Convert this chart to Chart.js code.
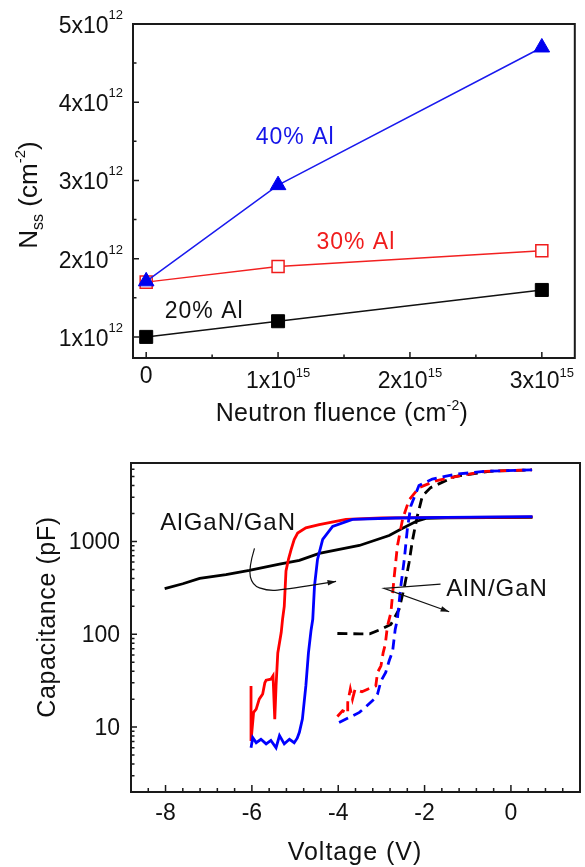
<!DOCTYPE html>
<html>
<head>
<meta charset="utf-8">
<script src="https://cdn.jsdelivr.net/npm/chart.js@4.4.1/dist/chart.umd.min.js"></script>
<style>
  html, body { margin: 0; padding: 0; background: #fff; }
  body { width: 585px; height: 867px; position: relative; overflow: hidden; }
  canvas { position: absolute; left: 0; }
  #fluence-chart { top: 0; }
  #cv-chart { top: 420px; }
</style>
</head>
<body>
<canvas id="fluence-chart" width="585" height="445"></canvas>
<canvas id="cv-chart" width="585" height="447"></canvas>
<script>
// ---- N_ss vs neutron fluence ----
const fluence = [0, 1e15, 3e15];
const nss40 = [1.71e12, 2.94e12, 4.70e12];
const nss30 = [1.70e12, 1.90e12, 2.10e12];
const nss20 = [1.00e12, 1.20e12, 1.60e12];
const fluenceTicks = [0, 1e15, 2e15, 3e15];
const fluenceMinor = [0.5e15, 1.5e15, 2.5e15];
const nssTicks = [1e12, 2e12, 3e12, 4e12, 5e12];
const nssMinor = [1.5e12, 2.5e12, 3.5e12, 4.5e12];

// ---- C-V curves (solid: AlGaN/GaN, dashed: AlN/GaN) ----
const blueSolidV = [-6.02, -5.98, -5.90, -5.79, -5.67, -5.56, -5.44, -5.36, -5.25, -5.13, -5.02, -4.95, -4.90, -4.83, -4.75, -4.69, -4.63, -4.59, -4.55, -4.48, -4.36, -4.13, -3.67, -2.67, -1.5, 0.5];
const blueSolidC = [6.0, 7.7, 6.8, 7.4, 6.6, 7.2, 6.0, 8.1, 6.6, 7.4, 6.8, 7.6, 8.8, 12.2, 27.8, 63, 110, 145, 330, 640, 1050, 1450, 1730, 1790, 1820, 1850];

const redSolidV = [-6.02, -6.02, -5.96, -5.90, -5.83, -5.75, -5.70, -5.67, -5.56, -5.51, -5.47, -5.44, -5.40, -5.32, -5.29, -5.25, -5.21, -5.15, -5.09, -5.02, -4.94, -4.75, -4.44, -3.82, -3.0, -2.0, -1.0, 0.0, 0.5];
const redSolidC = [27.8, 7.1, 14.4, 15.6, 20, 22.7, 30, 32, 32.8, 35.7, 12.2, 27.8, 63, 105, 145, 200, 480, 650, 820, 1050, 1230, 1400, 1520, 1730, 1790, 1810, 1820, 1830, 1840];

const blackSolidV = [-8.02, -7.6, -7.21, -6.6, -6.06, -5.36, -4.9, -4.44, -3.51, -2.82, -2.52, -2.2, -1.97, -1.5, 0.5];
const blackSolidC = [310, 350, 400, 440, 488, 570, 625, 743, 905, 1160, 1380, 1640, 1770, 1800, 1820];

const blueDashV = [-3.98, -3.82, -3.51, -3.40, -3.17, -3.09, -3.01, -2.90, -2.82, -2.74, -2.68, -2.63, -2.55, -2.47, -2.40, -2.32, -2.13, -1.82, -1.28, -0.58, 0.49];
const blueDashC = [11.2, 12.2, 14.4, 15.9, 20, 22.7, 31.4, 38.8, 51.8, 66, 113, 145, 330, 640, 1350, 2400, 4000, 4700, 5300, 5700, 5900];

const redDashV = [-4.02, -3.90, -3.78, -3.78, -3.72, -3.67, -3.61, -3.45, -3.32, -3.13, -3.09, -3.01, -2.96, -2.91, -2.86, -2.78, -2.71, -2.63, -2.51, -2.36, -2.13, -1.74, -1.28, -0.58, 0.49];
const redDashC = [13.0, 15, 14, 18.4, 25.6, 20, 25.6, 24, 25.6, 27.8, 38.8, 45.7, 63, 78, 123, 171, 390, 890, 1730, 2800, 3800, 4500, 5000, 5700, 5900];

const blackDashV = [-4.02, -3.5, -3.27, -2.98, -2.78, -2.59, -2.47, -2.36, -2.28, -2.17, -2.05, -1.86, -1.3, -0.5, 0.49];
const blackDashC = [102, 101, 101, 115, 128, 186, 320, 590, 1030, 1860, 3100, 3800, 5000, 5700, 5900];

const voltTicks = [-8, -6, -4, -2, 0];
const capTicks = [10, 100, 1000];

// arrow paths for the two labels, in volts / pF
const algaArrowV = [-5.94, -6.08, -5.99, -5.66, -5.36, -4.05];
const algaArrowC = [841, 512, 336, 297, 297, 371];
const alnArrowV = [-1.63, -2.94, -1.43];
const alnArrowC = [347, 312, 175];

const FONT = '"Liberation Sans", Arial, Helvetica, sans-serif';

function setFont(ctx, size) { ctx.font = size + 'px ' + FONT; }

// parts: [text, size, raise]; raise lifts a run above the baseline (negative lowers it)
function drawRich(ctx, parts, x, y, align, spacing) {
  ctx.letterSpacing = (spacing || 0) + 'px';
  let w = 0;
  for (const [t, size] of parts) { setFont(ctx, size); w += ctx.measureText(t).width; }
  let cx = align === 'center' ? x - w / 2 : align === 'right' ? x - w : x;
  ctx.textAlign = 'left';
  ctx.textBaseline = 'alphabetic';
  for (const [t, size, raise] of parts) {
    setFont(ctx, size);
    ctx.fillText(t, cx, y - (raise || 0));
    cx += ctx.measureText(t).width;
  }
  ctx.letterSpacing = '0px';
}

function sciParts(v, raise) {
  if (v === 0) return [['0', 23]];
  const e = Math.floor(Math.log10(v) + 1e-9);
  const m = Math.round(v / Math.pow(10, e));
  return [[m + 'x10', 23], [String(e), 13, raise]];
}

function drawTicks(ctx, scale, values, len, a, axis) {
  ctx.beginPath();
  for (const v of values) {
    const p = scale.getPixelForValue(v);
    if (axis === 'x') { ctx.moveTo(p, a.bottom); ctx.lineTo(p, a.bottom - len); }
    else { ctx.moveTo(a.left, p); ctx.lineTo(a.left + len, p); }
  }
  ctx.stroke();
}

function label(ctx, text, x, y, color, size) {
  setFont(ctx, size);
  ctx.letterSpacing = '1px';
  ctx.fillStyle = color;
  ctx.textAlign = 'center';
  ctx.textBaseline = 'middle';
  ctx.fillText(text, x, y);
  ctx.letterSpacing = '0px';
}

function arrowHead(ctx, x0, y0, x1, y1, size) {
  const ang = Math.atan2(y1 - y0, x1 - x0);
  ctx.beginPath();
  ctx.moveTo(x1, y1);
  ctx.lineTo(x1 - size * Math.cos(ang - 0.32), y1 - size * Math.sin(ang - 0.32));
  ctx.lineTo(x1 - size * Math.cos(ang + 0.32), y1 - size * Math.sin(ang + 0.32));
  ctx.closePath();
  ctx.fill();
}

const points = (xs, ys) => xs.map((x, i) => ({ x, y: ys[i] }));

const fixedAxis = (size, dir) => s => { if (dir === 'w') s.width = size; else s.height = size; };
const hiddenAxis = { grid: { display: false }, border: { display: false }, ticks: { display: false } };

// ---------- top chart ----------
const fluenceDecor = {
  id: 'fluenceDecor',
  afterDraw(chart) {
    const { ctx, chartArea: a, scales: { x, y } } = chart;
    ctx.save();
    ctx.strokeStyle = '#1a1a1a';
    ctx.lineWidth = 1.5;
    drawTicks(ctx, y, nssTicks, 6, a, 'y');
    drawTicks(ctx, y, nssMinor, 3.5, a, 'y');
    drawTicks(ctx, x, fluenceTicks, 6, a, 'x');
    drawTicks(ctx, x, fluenceMinor, 3.5, a, 'x');
    ctx.lineWidth = 2;
    ctx.strokeRect(a.left, a.top, a.right - a.left, a.bottom - a.top);

    ctx.fillStyle = '#111';
    nssTicks.forEach(v => drawRich(ctx, sciParts(v, 14), a.left - 10, y.getPixelForValue(v) + 9, 'right'));
    fluenceTicks.forEach(v => drawRich(ctx, sciParts(v, 11), x.getPixelForValue(v), v === 0 ? 383 : 388, 'center'));

    drawRich(ctx, [['Neutron fluence (cm', 25], ['-2', 14, 11], [')', 25]], 342, 421, 'center', 0.3);

    ctx.save();
    ctx.translate(37, 195);
    ctx.rotate(-Math.PI / 2);
    drawRich(ctx, [['N', 26], ['ss', 16, -6], [' (cm', 26], ['-2', 15, 12], [')', 26]], 0, 0, 'center');
    ctx.restore();

    label(ctx, '40% Al', x.getPixelForValue(1.13e15), y.getPixelForValue(3.55e12), '#1515e8', 23);
    label(ctx, '30% Al', x.getPixelForValue(1.59e15), y.getPixelForValue(2.21e12), '#f01c1c', 23);
    label(ctx, '20% Al', x.getPixelForValue(0.44e15), y.getPixelForValue(1.32e12), '#111', 23);
    ctx.restore();
  }
};

new Chart(document.getElementById('fluence-chart'), {
  type: 'scatter',
  data: {
    datasets: [
      { data: points(fluence, nss40), showLine: true, borderColor: '#1a1aee', borderWidth: 1.5,
        pointStyle: 'triangle', pointRadius: 9, pointBackgroundColor: '#0000ee', pointBorderColor: '#0000ee', pointBorderWidth: 1 },
      { data: points(fluence, nss30), showLine: true, borderColor: '#f22020', borderWidth: 1.5,
        pointStyle: 'rect', pointRadius: 8.5, pointBackgroundColor: '#fff', pointBorderColor: '#f01c1c', pointBorderWidth: 1.5 },
      { data: points(fluence, nss20), showLine: true, borderColor: '#111', borderWidth: 1.5,
        pointStyle: 'rect', pointRadius: 9.2, pointBackgroundColor: '#000', pointBorderColor: '#000', pointBorderWidth: 1 }
    ]
  },
  options: {
    responsive: false,
    animation: false,
    events: [],
    layout: { padding: { left: 0, top: 24, right: 4, bottom: 0 } },
    plugins: { legend: { display: false }, tooltip: { enabled: false } },
    scales: {
      x: { type: 'linear', min: -0.1e15, max: 3.25e15, ...hiddenAxis, afterFit: fixedAxis(87, 'h') },
      y: { type: 'linear', min: 0.73e12, max: 5e12, ...hiddenAxis, afterFit: fixedAxis(133, 'w') }
    }
  },
  plugins: [fluenceDecor]
});

// ---------- bottom chart ----------
const capMinor = [];
[1, 10, 100, 1000].forEach(d => {
  for (let k = 2; k <= 9; k++) {
    const v = k * d;
    if (v >= 2 && v <= 7000) capMinor.push(v);
  }
});
const voltMinor = [];
for (let i = 0; i <= 26; i++) {
  const v = -8.8 + 0.4 * i;
  const r = Math.round(v);
  if (!(Math.abs(v - r) < 1e-6 && r % 2 === 0)) voltMinor.push(v);
}

const cvDecor = {
  id: 'cvDecor',
  afterDraw(chart) {
    const { ctx, chartArea: a, scales: { x, y } } = chart;
    ctx.save();
    ctx.strokeStyle = '#1a1a1a';
    ctx.lineWidth = 1.5;
    drawTicks(ctx, y, capTicks, 6, a, 'y');
    drawTicks(ctx, y, capMinor, 3.5, a, 'y');
    drawTicks(ctx, x, voltTicks, 7, a, 'x');
    drawTicks(ctx, x, voltMinor, 4, a, 'x');
    ctx.lineWidth = 2;
    ctx.strokeRect(a.left, a.top, a.right - a.left, a.bottom - a.top);

    ctx.fillStyle = '#111';
    capTicks.forEach(v => drawRich(ctx, [[String(v), 23]], a.left - 11, y.getPixelForValue(v) + 8, 'right'));
    voltTicks.forEach(v => drawRich(ctx, [[String(v), 23]], x.getPixelForValue(v), 400, 'center'));
    drawRich(ctx, [['Voltage (V)', 25]], 355, 440, 'center', 1);

    ctx.save();
    ctx.translate(55, 197);
    ctx.rotate(-Math.PI / 2);
    drawRich(ctx, [['Capacitance (pF)', 25]], 0, 0, 'center', 0.6);
    ctx.restore();

    label(ctx, 'AlGaN/GaN', x.getPixelForValue(-6.55), y.getPixelForValue(1560), '#111', 24);
    label(ctx, 'AlN/GaN', x.getPixelForValue(-0.32), y.getPixelForValue(301), '#111', 24);

    // curved arrow from the AlGaN/GaN label
    ctx.strokeStyle = '#111';
    ctx.fillStyle = '#111';
    ctx.lineWidth = 1.2;
    const pa = algaArrowV.map((v, i) => [x.getPixelForValue(v), y.getPixelForValue(algaArrowC[i])]);
    ctx.beginPath();
    ctx.moveTo(pa[0][0], pa[0][1]);
    for (let i = 1; i < pa.length - 1; i++) {
      const mx = (pa[i][0] + pa[i + 1][0]) / 2, my = (pa[i][1] + pa[i + 1][1]) / 2;
      ctx.quadraticCurveTo(pa[i][0], pa[i][1], mx, my);
    }
    const last = pa[pa.length - 1], prev = pa[pa.length - 2];
    ctx.lineTo(last[0], last[1]);
    ctx.stroke();
    arrowHead(ctx, prev[0], prev[1], last[0], last[1], 9);

    // bent arrow from the AlN/GaN label
    const pb = alnArrowV.map((v, i) => [x.getPixelForValue(v), y.getPixelForValue(alnArrowC[i])]);
    ctx.beginPath();
    ctx.moveTo(pb[0][0], pb[0][1]);
    ctx.lineTo(pb[1][0], pb[1][1]);
    ctx.lineTo(pb[2][0], pb[2][1]);
    ctx.stroke();
    arrowHead(ctx, pb[1][0], pb[1][1], pb[2][0], pb[2][1], 9);
    ctx.restore();
  }
};

const curve = (xs, ys, color, dashed) => ({
  data: points(xs, ys), showLine: true, borderColor: color, borderWidth: 2.8,
  borderDash: dashed ? [10, 6] : [], pointRadius: 0, tension: 0
});

new Chart(document.getElementById('cv-chart'), {
  type: 'scatter',
  data: {
    datasets: [
      curve(blueSolidV, blueSolidC, '#0000ff', false),
      curve(blueDashV, blueDashC, '#0000ff', true),
      curve(redSolidV, redSolidC, '#ff0000', false),
      curve(redDashV, redDashC, '#ff0000', true),
      curve(blackSolidV, blackSolidC, '#000', false),
      curve(blackDashV, blackDashC, '#000', true)
    ]
  },
  options: {
    responsive: false,
    animation: false,
    events: [],
    layout: { padding: { left: 0, top: 43, right: 5, bottom: 0 } },
    plugins: { legend: { display: false }, tooltip: { enabled: false } },
    scales: {
      x: { type: 'linear', min: -8.8, max: 1.6, ...hiddenAxis, afterFit: fixedAxis(75, 'h') },
      y: { type: 'logarithmic', min: 2, max: 7000, ...hiddenAxis, afterFit: fixedAxis(131, 'w') }
    }
  },
  plugins: [cvDecor]
});
</script>
</body>
</html>
